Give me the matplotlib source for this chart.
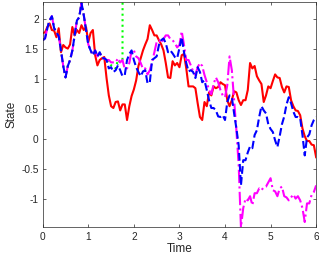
import numpy as np
import matplotlib
matplotlib.use("Agg")
import matplotlib.pyplot as plt

plt.rcParams['font.family'] = ['Liberation Sans', 'DejaVu Sans']

# sample times (step 0.05)
t = np.linspace(0, 6, 121)

red = [1.76, 1.77, 1.86, 1.92, 1.81, 1.80, 1.69, 1.84, 1.44, 1.56,
       1.52, 1.50, 1.57, 1.86, 1.72, 1.81, 1.76, 1.89, 1.81, 1.86,
       1.61, 1.76, 1.81, 1.39, 1.22, 1.31, 1.34, 1.36, 1.01, 0.72,
       0.54, 0.51, 0.61, 0.62, 0.47, 0.57, 0.57, 0.31, 0.54, 0.71,
       0.82, 0.97, 1.21, 1.34, 1.47, 1.57, 1.66, 1.89, 1.81, 1.72,
       1.72, 1.64, 1.57, 1.47, 1.26, 1.02, 1.01, 1.29, 1.22, 1.26,
       1.19, 1.39, 1.41, 1.17, 0.87, 0.87, 0.87, 0.84, 0.59, 0.36,
       0.31, 0.61, 0.54, 0.77, 0.72, 0.87, 0.84, 0.86, 0.94, 0.91,
       0.89, 0.64, 0.54, 0.64, 0.79, 0.77, 0.64, 0.56, 0.64, 0.64,
       0.81, 1.26, 1.17, 1.21, 1.04, 0.97, 0.91, 0.61, 0.72, 0.87,
       0.84, 0.96, 1.07, 1.02, 1.01, 0.86, 0.77, 0.87, 0.86, 0.64,
       0.54, 0.47, 0.46, 0.39, 0.17, 0.04, -0.04, -0.04, -0.10, -0.11,
       -0.31]

# common start of the blue / magenta / green paths (t = 0 .. 1.40)
shared = [1.64, 1.67, 1.84, 1.97, 2.04, 1.84, 1.77, 1.71, 1.47, 1.21,
          1.02, 1.21, 1.31, 1.47, 1.72, 1.97, 2.02, 2.26, 2.06, 1.81,
          1.57, 1.47, 1.39, 1.47, 1.37, 1.44, 1.34, 1.34, 1.31]

blue_tail = [1.17, 1.19, 1.11, 1.14, 1.22, 1.14, 1.04, 1.06, 1.31, 1.41,
             1.47, 1.31, 1.19, 1.11, 1.04, 1.12, 1.14, 0.92, 0.94, 1.31,
             1.34, 1.37, 1.56, 1.64, 1.67, 1.59, 1.44, 1.47, 1.42, 1.36,
             1.34, 1.51, 1.69, 1.44, 1.26, 1.12, 1.14, 1.11, 1.01, 1.19,
             1.11, 0.94, 0.97, 0.81, 0.64, 0.51, 0.51, 0.47, 0.37, 0.36,
             0.39, 0.31, 0.61, 0.72, 0.69, 0.42, 0.17, -0.11, -0.78, -0.36,
             -0.36, -0.23, -0.13, -0.16, 0.06, 0.14, 0.36, 0.54, 0.47, 0.42,
             0.24, 0.16, 0.11, -0.03, -0.14, 0.04, 0.24, 0.37, 0.57, 0.69,
             0.59, 0.45, 0.36, 0.36, 0.34, 0.06, -0.28, 0.02, 0.07, 0.22,
             0.31, 0.36]

magenta_tail = [1.31, 1.27, 1.27, 1.27, 1.34, 1.27, 1.31, 1.16, 1.17, 1.26,
                1.47, 1.47, 1.37, 1.34, 1.26, 1.16, 1.17, 1.07, 1.14, 1.27,
                1.44, 1.61, 1.64, 1.59, 1.66, 1.72, 1.72, 1.66, 1.64, 1.59,
                1.52, 1.56, 1.79, 1.56, 1.31, 1.31, 1.22, 1.12, 1.06, 1.19,
                1.26, 1.21, 1.06, 0.94, 0.81, 0.74, 0.91, 1.02, 0.94, 0.81,
                0.72, 0.69, 0.89, 1.37, 1.14, 0.64, 0.14, -0.44, -1.48, -1.16,
                -1.00, -1.03, -0.96, -1.11, -0.91, -0.91, -0.83, -0.86, -0.81, -0.80,
                -0.73, -0.66, -0.86, -0.88, -0.96, -0.83, -0.80, -0.96, -0.98, -1.03,
                -0.98, -0.93, -1.00, -0.96, -1.03, -1.16, -1.39, -1.08, -1.08, -0.94,
                -0.89, -0.78]

# green path blows up at t = 1.76
green_tail = [1.27, 1.22, 1.21, 1.17, 1.31, 1.27, 1.31]
green_end_t = 1.76
green_end_y = 6.0

blue = shared + blue_tail
magenta = shared + magenta_tail
green = shared + green_tail
t_green = list(t[:len(green)]) + [green_end_t]
green = green + [green_end_y]

fig = plt.figure(figsize=(3.19, 2.59), dpi=100)
ax = fig.add_axes([0.134, 0.122, 0.857, 0.871])

ax.plot(t, red, color=(1, 0, 0), lw=1.5, ls='-')
ax.plot(t_green, green, color=(0, 1, 0), lw=1.5, ls=':')
ax.plot(t, magenta, color=(1, 0, 1), lw=1.5, ls='-.')
ax.plot(t, blue, color=(0, 0, 1), lw=1.5, ls='--')

ax.set_xlim(0, 6)
ax.set_ylim(-1.48, 2.28)
ax.set_xticks([0, 1, 2, 3, 4, 5, 6])
ax.set_yticks([-1, -0.5, 0, 0.5, 1, 1.5, 2])
ax.set_yticklabels(['-1', '-0.5', '0', '0.5', '1', '1.5', '2'])

ax.tick_params(direction='in', top=True, right=True, length=2.5, width=0.5,
               labelsize=7.3, colors='#262626', pad=3)
for s in ax.spines.values():
    s.set_color('#262626')
    s.set_linewidth(0.5)

ax.set_xlabel('Time', fontsize=8.5, color='#262626', labelpad=1)
ax.set_ylabel('State', fontsize=8.5, color='#262626', labelpad=3)

fig.savefig('out.png', dpi=100)
